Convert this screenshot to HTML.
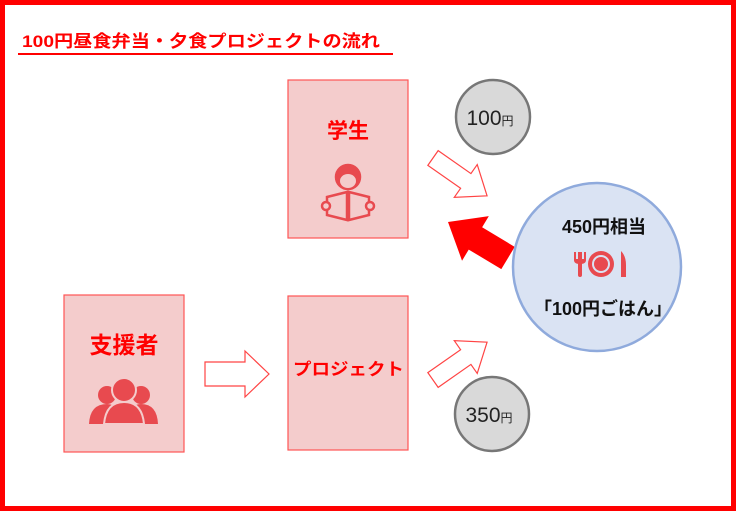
<!DOCTYPE html>
<html><head><meta charset="utf-8"><style>
html,body{margin:0;padding:0;background:#fff;}
svg{display:block;font-family:"Liberation Sans","Noto Sans CJK JP",sans-serif;}
</style></head><body>
<svg width="736" height="511" viewBox="0 0 736 511">
<rect x="2.5" y="2.5" width="731" height="506" fill="#fff" stroke="#f00" stroke-width="5"/>
<text x="22" y="47" font-size="17" font-weight="bold" fill="#f00" textLength="358" lengthAdjust="spacingAndGlyphs">100円昼食弁当・夕食プロジェクトの流れ</text>
<line x1="18" y1="54" x2="393" y2="54" stroke="#f00" stroke-width="2"/>

<rect x="288" y="80" width="120" height="158" fill="#f4cccc" stroke="#f55" stroke-width="1.2"/>
<text x="348" y="138" font-size="21" font-weight="bold" fill="#f00" text-anchor="middle">学生</text>
<g fill="none" stroke="#e84a4f" stroke-width="2.5">
<circle cx="348" cy="177" r="12" fill="#e84a4f"/>
<path d="M327 197 L347 192 L347 220 L327 215 Z M369 197 L349 192 L349 220 L369 215 Z" fill="#f4cccc"/>
<circle cx="326" cy="206" r="4" fill="#f4cccc"/><circle cx="370" cy="206" r="4" fill="#f4cccc"/>
</g>
<ellipse cx="348" cy="181" rx="8" ry="7" fill="#f4cccc"/>

<rect x="64" y="295" width="120" height="157" fill="#f4cccc" stroke="#f55" stroke-width="1.2"/>
<text x="124" y="353" font-size="23" font-weight="bold" fill="#f00" text-anchor="middle">支援者</text>
<g fill="#e84a4f">
<circle cx="107" cy="395" r="9"/><path d="M89 424 Q90 404 107 404 Q120 404 122 424 Z"/>
<circle cx="141" cy="395" r="9"/><path d="M126 424 Q128 404 141 404 Q157 404 158 424 Z"/>
<circle cx="124" cy="390" r="12" stroke="#f4cccc" stroke-width="2"/><path d="M104 424 Q106 402 124 402 Q142 402 144 424 Z" stroke="#f4cccc" stroke-width="2"/>
</g>

<rect x="288" y="296" width="120" height="154" fill="#f4cccc" stroke="#f55" stroke-width="1.2"/>
<text x="293" y="375" font-size="17" font-weight="bold" fill="#f00" textLength="111" lengthAdjust="spacingAndGlyphs">プロジェクト</text>

<polygon transform="translate(205,374)" points="0,-12 40,-12 40,-23 64,0 40,23 40,12 0,12" fill="#fff" stroke="#f44" stroke-width="1.2"/>
<polygon transform="translate(433,158) rotate(35)" points="0,-9 40,-9 40,-20 66,0 40,20 40,9 0,9" fill="#fff" stroke="#f44" stroke-width="1.2"/>
<polygon transform="translate(433,380) rotate(-35)" points="0,-9 40,-9 40,-20 66,0 40,20 40,9 0,9" fill="#fff" stroke="#f44" stroke-width="1.2"/>
<polygon transform="translate(508,258) rotate(211)" points="0,-13 38,-13 38,-26 70,0 38,26 38,13 0,13" fill="#f00"/>

<circle cx="493" cy="117" r="37" fill="#d9d9d9" stroke="#777" stroke-width="2.5"/>
<text x="490" y="125" font-size="21" fill="#222" text-anchor="middle">100<tspan font-size="12">円</tspan></text>
<circle cx="492" cy="414" r="37" fill="#d9d9d9" stroke="#777" stroke-width="2.5"/>
<text x="489" y="422" font-size="21" fill="#222" text-anchor="middle">350<tspan font-size="12">円</tspan></text>

<circle cx="597" cy="267" r="84" fill="#dae3f3" stroke="#8faadc" stroke-width="2.5"/>
<text x="604" y="233" font-size="18" font-weight="bold" fill="#111" text-anchor="middle">450円相当</text>
<g fill="#e84a4f">
<rect x="578" y="255" width="4" height="22" rx="2"/>
<path d="M574 252 L574 260 Q574 264 580 264 Q586 264 586 260 L586 252 L584 252 L584 259 L582 259 L582 252 L578 252 L578 259 L576 259 L576 252 Z"/>
<circle cx="601" cy="264" r="13"/>
<path d="M621 251 Q626 256 626 265 L626 277 L621 277 Z"/>
</g>
<circle cx="601" cy="264" r="9" fill="#dae3f3"/><circle cx="601" cy="264" r="7" fill="#e84a4f"/>
<text x="603" y="315" font-size="18" font-weight="bold" fill="#111" text-anchor="middle">「100円ごはん」</text>
</svg>
</body></html>
